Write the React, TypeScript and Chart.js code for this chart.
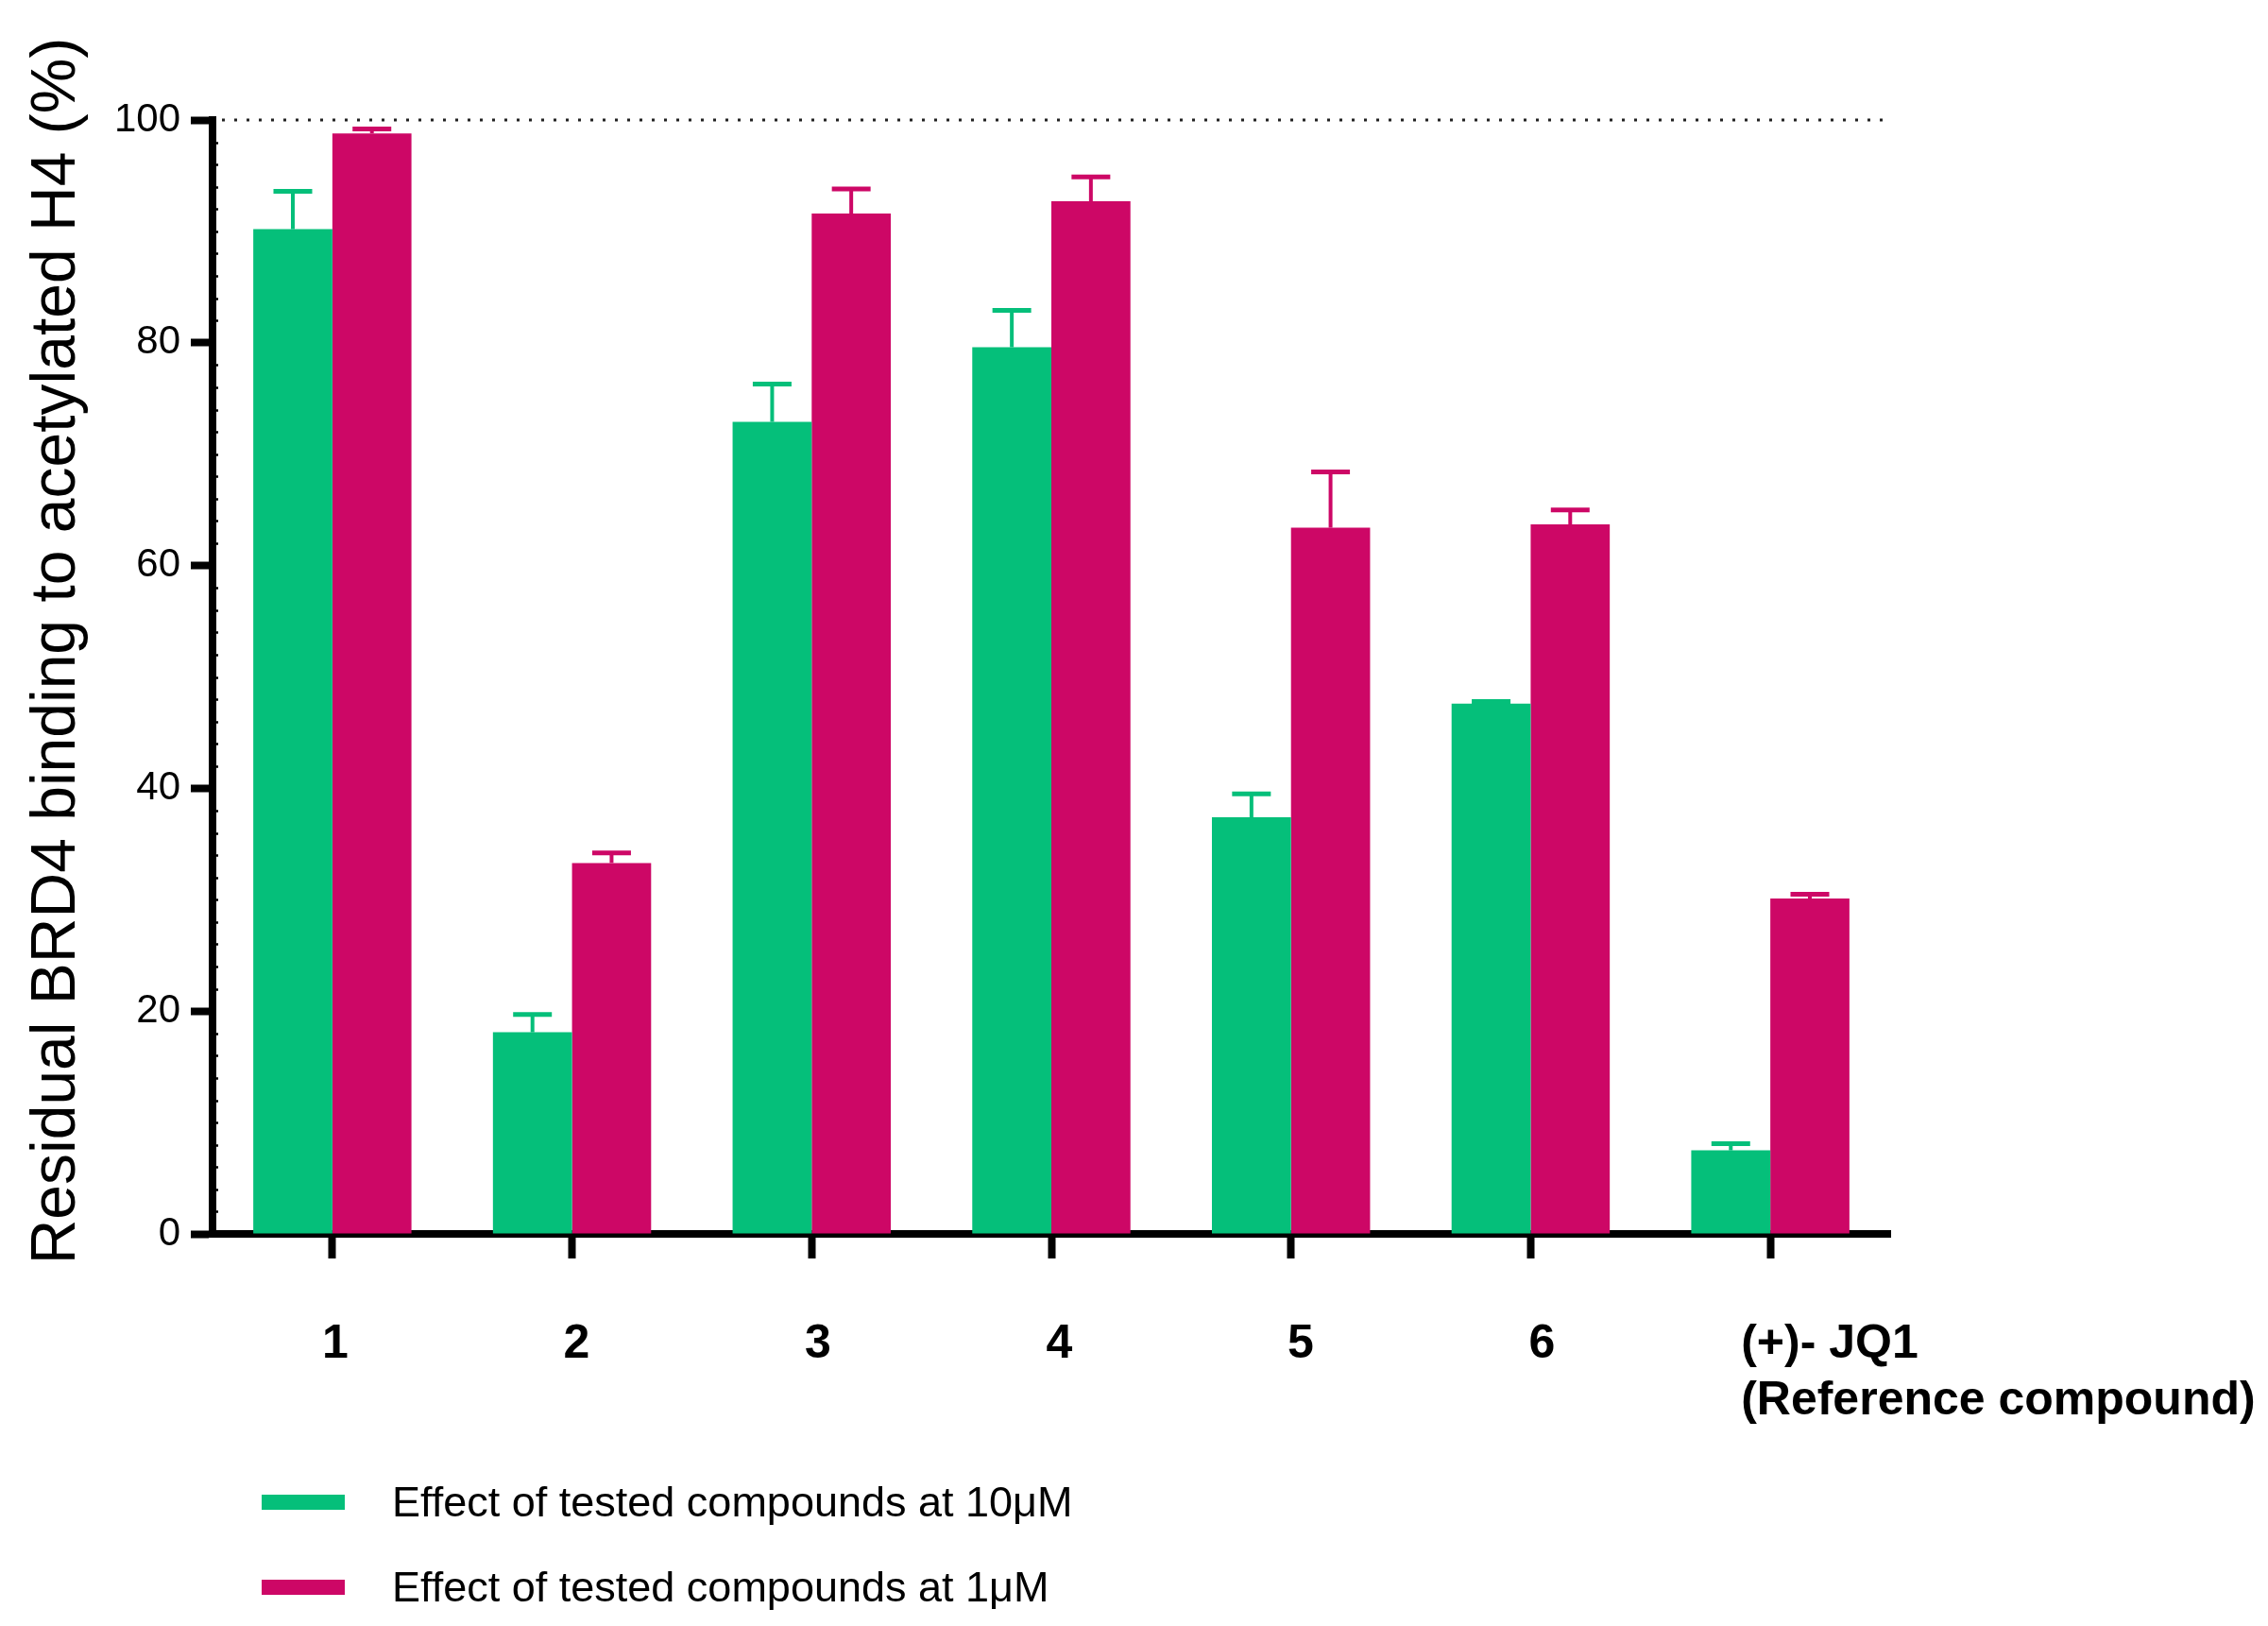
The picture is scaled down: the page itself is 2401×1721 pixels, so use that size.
import React, { useEffect, useRef } from "react";
import { Chart, registerables } from "chart.js";

Chart.register(...registerables);

const categories: (string | string[])[] = ["1", "2", "3", "4", "5", "6", ["(+)- JQ1", "(Reference compound)"]];
const seriesLabels = ["Effect of tested compounds at 10\u03bcM", "Effect of tested compounds at 1\u03bcM"];
const values10uM = [90.2, 18.1, 72.9, 79.6, 37.4, 47.6, 7.5];
const errors10uM = [3.4, 1.6, 3.4, 3.3, 2.1, 0.2, 0.6];
const values1uM = [98.8, 33.3, 91.6, 92.7, 63.4, 63.7, 30.1];
const errors1uM = [0.4, 0.9, 2.2, 2.2, 5.0, 1.3, 0.4];
const yTicks = [0, 20, 40, 60, 80, 100];
const yTitle = "Residual BRD4 binding to acetylated H4 (%)";

const GREEN = "#05BF7A";
const MAGENTA = "#CD0766";
const FONT = '"Liberation Sans", Arial, Helvetica, sans-serif';

const errorSets = [errors10uM, errors1uM];

const customPlugin = {
  id: "prismLook",
  beforeDatasetsDraw(chart: any) {
    const { ctx, chartArea, scales } = chart;
    const y = scales.y;
    ctx.save();
    ctx.strokeStyle = "#222";
    ctx.lineWidth = 3;
    ctx.setLineDash([3, 10]);
    const yy = y.getPixelForValue(100);
    ctx.beginPath();
    ctx.moveTo(chartArea.left + 10, yy);
    ctx.lineTo(chartArea.right, yy);
    ctx.stroke();
    ctx.restore();
  },
  afterDatasetsDraw(chart: any) {
    const { ctx, scales } = chart;
    const y = scales.y;
    chart.data.datasets.forEach((ds: any, d: number) => {
      const meta = chart.getDatasetMeta(d);
      const errs = errorSets[d];
      meta.data.forEach((bar: any, i: number) => {
        const v = ds.data[i];
        const top = y.getPixelForValue(v);
        const et = y.getPixelForValue(v + errs[i]);
        ctx.save();
        ctx.strokeStyle = ds.backgroundColor;
        ctx.lineWidth = 4;
        ctx.beginPath();
        ctx.moveTo(bar.x, top);
        ctx.lineTo(bar.x, et);
        ctx.stroke();
        ctx.lineWidth = 5;
        ctx.beginPath();
        ctx.moveTo(bar.x - 20.5, et);
        ctx.lineTo(bar.x + 20.5, et);
        ctx.stroke();
        ctx.restore();
      });
    });
  },
  afterDraw(chart: any) {
    const { ctx, chartArea, scales } = chart;
    const x = scales.x;
    const y = scales.y;
    ctx.save();
    // minor ticks on y axis
    ctx.strokeStyle = "#000";
    ctx.lineWidth = 2.5;
    for (let v = 2; v < 100; v += 2) {
      if (v % 20 === 0) continue;
      const py = Math.round(y.getPixelForValue(v)) + 0.5;
      ctx.beginPath();
      ctx.moveTo(chartArea.left - 3, py);
      ctx.lineTo(chartArea.left + 6, py);
      ctx.stroke();
    }
    // category labels
    ctx.fillStyle = "#000";
    ctx.font = `bold 50px ${FONT}`;
    ctx.textBaseline = "alphabetic";
    categories.forEach((lab, i) => {
      const px = x.getPixelForValue(i);
      if (Array.isArray(lab)) {
        ctx.textAlign = "left";
        lab.forEach((line, k) => ctx.fillText(line, px - 31, 1437 + k * 60));
      } else {
        ctx.textAlign = "center";
        ctx.fillText(lab, px + 3 + 1.8 * i, 1437);
      }
    });
    // y axis title
    ctx.save();
    ctx.translate(79, 689);
    ctx.rotate(-Math.PI / 2);
    ctx.font = `66px ${FONT}`;
    ctx.textAlign = "center";
    ctx.textBaseline = "alphabetic";
    ctx.fillText(yTitle, 0, 0);
    ctx.restore();
    // legend
    chart.data.datasets.forEach((ds: any, d: number) => {
      const cy = 1590 + d * 90;
      ctx.fillStyle = ds.backgroundColor;
      ctx.fillRect(277, cy - 8, 88, 16);
      ctx.fillStyle = "#000";
      ctx.font = `45px ${FONT}`;
      ctx.textAlign = "left";
      ctx.textBaseline = "alphabetic";
      ctx.fillText(ds.label, 415, cy + 15);
    });
    ctx.restore();
  },
};

export default function App() {
  const ref = useRef<HTMLCanvasElement | null>(null);
  useEffect(() => {
    if (!ref.current) return;
    const chart = new Chart(ref.current, {
      type: "bar",
      data: {
        labels: categories as any,
        datasets: [
          {
            label: seriesLabels[0],
            data: values10uM,
            backgroundColor: GREEN,
            borderWidth: 0,
            categoryPercentage: 0.66,
            barPercentage: 1.0,
          },
          {
            label: seriesLabels[1],
            data: values1uM,
            backgroundColor: MAGENTA,
            borderWidth: 0,
            categoryPercentage: 0.66,
            barPercentage: 1.0,
          },
        ],
      },
      options: {
        animation: false,
        responsive: false,
        devicePixelRatio: 1,
        layout: { padding: { top: 127, right: 400, left: 0, bottom: 0 } },
        plugins: { legend: { display: false }, tooltip: { enabled: false } },
        scales: {
          x: {
            type: "category",
            ticks: { display: false },
            grid: {
              display: true,
              offset: false,
              drawOnChartArea: false,
              drawTicks: true,
              tickLength: 26,
              tickWidth: 8,
              tickColor: "#000",
            },
            border: { display: true, color: "#000", width: 8 },
            afterFit(scale: any) {
              scale.height = 415;
            },
          },
          y: {
            min: 0,
            max: 100,
            afterBuildTicks(scale: any) {
              scale.ticks = yTicks.map((v) => ({ value: v }));
            },
            ticks: {
              color: "#000",
              padding: 11,
              font: { family: FONT, size: 42 },
            },
            grid: {
              display: true,
              drawOnChartArea: false,
              drawTicks: true,
              tickLength: 23,
              tickWidth: 8,
              tickColor: "#000",
            },
            border: { display: true, color: "#000", width: 8 },
            afterFit(scale: any) {
              scale.width = 225;
            },
          },
        },
      },
      plugins: [customPlugin],
    });
    return () => chart.destroy();
  }, []);
  return (
    <div style={{ position: "fixed", left: 0, top: 0, width: 2401, height: 1721, background: "#fff" }}>
      <canvas ref={ref} width={2401} height={1721} style={{ width: 2401, height: 1721, display: "block" }} />
    </div>
  );
}
